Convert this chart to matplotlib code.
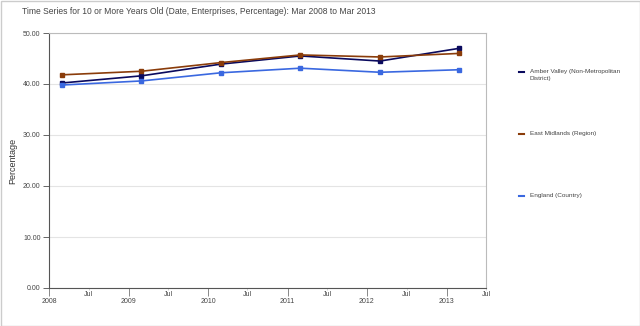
import matplotlib
matplotlib.use("Agg")
import matplotlib.pyplot as plt
import matplotlib.dates as mdates
from matplotlib.lines import Line2D
from matplotlib.patches import Rectangle
import datetime as dt

plt.rcParams['font.family'] = ['Liberation Sans', 'DejaVu Sans']

years = [2008, 2009, 2010, 2011, 2012, 2013]
amber_valley = [40.2, 41.6, 43.9, 45.5, 44.5, 47.0]
east_midlands = [41.8, 42.5, 44.2, 45.7, 45.3, 46.0]
england = [39.8, 40.6, 42.2, 43.1, 42.3, 42.8]

series_names = ["Amber Valley (Non-Metropolitan\nDistrict)",
                "East Midlands (Region)",
                "England (Country)"]
series_vals = [amber_valley, east_midlands, england]
colors = ["#0a0a5e", "#8a3c0a", "#3a68e0"]

title = "Time Series for 10 or More Years Old (Date, Enterprises, Percentage): Mar 2008 to Mar 2013"

dates = [dt.date(y, 3, 1) for y in years]

fig = plt.figure(figsize=(6.4, 3.26), dpi=100)
ax = fig.add_axes([49/640, 1-288/326, (486-49)/640, (288-33)/326])

for name, vals, c in zip(series_names, series_vals, colors):
    ax.plot(dates, vals, color=c, lw=1.2, marker='s', ms=2.3, zorder=3)

ax.set_xlim(dt.date(2008, 1, 1), dt.date(2013, 7, 1))
ax.set_ylim(0, 50)
ax.set_yticks([0, 10, 20, 30, 40, 50])
ax.set_yticklabels(["%.2f" % v for v in [0, 10, 20, 30, 40, 50]])
ax.yaxis.grid(True, color="#e4e4e4", lw=0.8)
ax.set_axisbelow(True)

ax.xaxis.set_major_locator(mdates.YearLocator())
ax.xaxis.set_major_formatter(mdates.DateFormatter('%Y'))
ax.xaxis.set_minor_locator(mdates.MonthLocator(bymonth=7))
ax.xaxis.set_minor_formatter(mdates.DateFormatter('%b'))

ax.tick_params(axis='x', which='major', length=6, width=0.7, color="#888888",
               labelsize=5, labelcolor="#444444", pad=1.5)
ax.tick_params(axis='x', which='minor', length=1.5, width=0.6, color="#cccccc",
               labelsize=5, labelcolor="#444444", pad=1)
ax.tick_params(axis='y', length=4, width=0.7, color="#666666",
               labelsize=5, labelcolor="#444444", pad=2)

for s in ['left', 'bottom']:
    ax.spines[s].set_color("#555555")
    ax.spines[s].set_linewidth(0.8)
for s in ['top', 'right']:
    ax.spines[s].set_color("#bbbbbb")
    ax.spines[s].set_linewidth(0.8)

ax.set_ylabel("Percentage", fontsize=6.5, color="#333333", labelpad=4)

fig.text(22/640, 1-12/326, title, fontsize=6.15, color="#444444", va='center', ha='left')

# legend
leg_y = [72, 134, 196]
for name, c, y in zip(series_names, colors, leg_y):
    fig.add_artist(Line2D([519/640, 524/640], [1-y/326, 1-y/326], color=c, lw=1.5,
                          transform=fig.transFigure))
    fig.text(530/640, 1-(y-3.5)/326, name, fontsize=4.6, color="#444444",
             va='top', ha='left', linespacing=1.6)

fig.add_artist(Rectangle((0.5/640, 0.5/326), 639/640, 325/326, fill=False,
                         edgecolor="#cccccc", lw=1, transform=fig.transFigure))

fig.savefig("out.png", dpi=100)
